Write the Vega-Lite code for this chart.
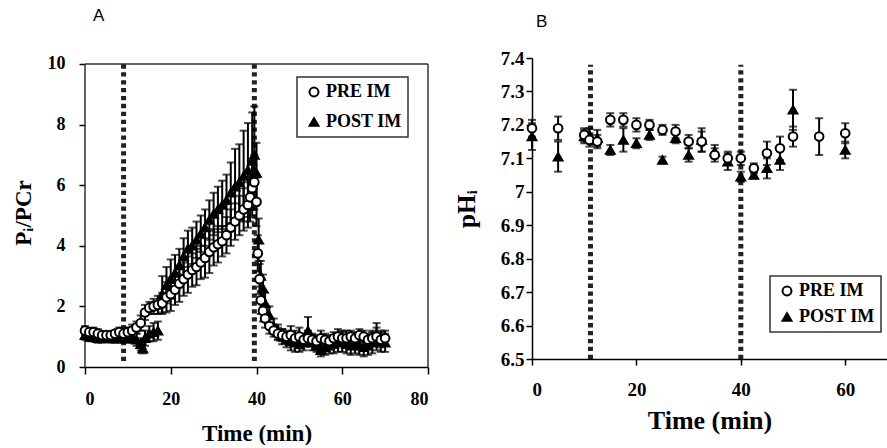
{
  "$schema": "https://vega.github.io/schema/vega-lite/v6.json",
  "padding": {"left": 12, "top": 6, "right": 0, "bottom": 0},
  "background": "white",
  "datasets": {
    "a": [
      {"s":"POST IM","t":0,"v":1.05,"e":0.15},{"s":"POST IM","t":1,"v":1.0,"e":0.15},{"s":"POST IM","t":2,"v":1.0,"e":0.15},{"s":"POST IM","t":3,"v":0.95,"e":0.15},{"s":"POST IM","t":4,"v":0.95,"e":0.15},{"s":"POST IM","t":5,"v":1.0,"e":0.15},{"s":"POST IM","t":6,"v":0.95,"e":0.15},{"s":"POST IM","t":7,"v":0.95,"e":0.15},{"s":"POST IM","t":8,"v":0.95,"e":0.15},{"s":"POST IM","t":9,"v":0.95,"e":0.15},{"s":"POST IM","t":10,"v":0.95,"e":0.15},{"s":"POST IM","t":11,"v":1.0,"e":0.2},{"s":"POST IM","t":12,"v":0.9,"e":0.2},{"s":"POST IM","t":13,"v":0.75,"e":0.2},{"s":"POST IM","t":13.5,"v":0.6,"e":0.15},{"s":"POST IM","t":14,"v":0.95,"e":0.25},{"s":"POST IM","t":15,"v":1.1,"e":0.25},{"s":"POST IM","t":16,"v":1.15,"e":0.3},{"s":"POST IM","t":17,"v":1.2,"e":0.3},{"s":"POST IM","t":18,"v":2.4,"e":0.6},{"s":"POST IM","t":19,"v":2.7,"e":0.6},{"s":"POST IM","t":20,"v":2.9,"e":0.65},{"s":"POST IM","t":21,"v":3.1,"e":0.6},{"s":"POST IM","t":22,"v":3.35,"e":0.55},{"s":"POST IM","t":23,"v":3.65,"e":0.6},{"s":"POST IM","t":24,"v":3.9,"e":0.6},{"s":"POST IM","t":25,"v":4.0,"e":0.6},{"s":"POST IM","t":26,"v":4.2,"e":0.6},{"s":"POST IM","t":27,"v":4.4,"e":0.6},{"s":"POST IM","t":28,"v":4.6,"e":0.6},{"s":"POST IM","t":29,"v":4.85,"e":0.65},{"s":"POST IM","t":30,"v":5.05,"e":0.7},{"s":"POST IM","t":31,"v":5.2,"e":0.75},{"s":"POST IM","t":32,"v":5.35,"e":0.8},{"s":"POST IM","t":33,"v":5.5,"e":0.85},{"s":"POST IM","t":34,"v":5.75,"e":1.0},{"s":"POST IM","t":35,"v":5.95,"e":1.25},{"s":"POST IM","t":36,"v":6.1,"e":1.25},{"s":"POST IM","t":37,"v":6.3,"e":1.5},{"s":"POST IM","t":38,"v":6.5,"e":1.55},{"s":"POST IM","t":39,"v":6.8,"e":1.6},{"s":"POST IM","t":39.5,"v":7.0,"e":1.6},{"s":"POST IM","t":40,"v":6.4,"e":1.0},{"s":"POST IM","t":40.5,"v":4.2,"e":0.7},{"s":"POST IM","t":41,"v":3.0,"e":0.5},{"s":"POST IM","t":41.5,"v":2.6,"e":0.45},{"s":"POST IM","t":42,"v":2.1,"e":0.35},{"s":"POST IM","t":43,"v":1.7,"e":0.3},{"s":"POST IM","t":44,"v":1.35,"e":0.25},{"s":"POST IM","t":45,"v":1.15,"e":0.25},{"s":"POST IM","t":46,"v":1.0,"e":0.25},{"s":"POST IM","t":47,"v":0.9,"e":0.25},{"s":"POST IM","t":48,"v":0.85,"e":0.3},{"s":"POST IM","t":49,"v":0.8,"e":0.3},{"s":"POST IM","t":50,"v":0.75,"e":0.25},{"s":"POST IM","t":51,"v":0.8,"e":0.25},{"s":"POST IM","t":52,"v":1.2,"e":0.45},{"s":"POST IM","t":53,"v":0.8,"e":0.25},{"s":"POST IM","t":54,"v":0.7,"e":0.2},{"s":"POST IM","t":55,"v":0.55,"e":0.2},{"s":"POST IM","t":56,"v":0.65,"e":0.25},{"s":"POST IM","t":57,"v":0.7,"e":0.25},{"s":"POST IM","t":58,"v":0.75,"e":0.3},{"s":"POST IM","t":59,"v":0.8,"e":0.3},{"s":"POST IM","t":60,"v":0.85,"e":0.35},{"s":"POST IM","t":61,"v":0.75,"e":0.3},{"s":"POST IM","t":62,"v":0.7,"e":0.3},{"s":"POST IM","t":63,"v":0.75,"e":0.3},{"s":"POST IM","t":64,"v":0.7,"e":0.3},{"s":"POST IM","t":65,"v":0.65,"e":0.3},{"s":"POST IM","t":66,"v":0.7,"e":0.3},{"s":"POST IM","t":67,"v":0.8,"e":0.35},{"s":"POST IM","t":68,"v":1.0,"e":0.45},{"s":"POST IM","t":69,"v":0.85,"e":0.35},{"s":"POST IM","t":70,"v":0.8,"e":0.3},
      {"s":"PRE IM","t":0,"v":1.2,"e":0.15},{"s":"PRE IM","t":1,"v":1.15,"e":0.1},{"s":"PRE IM","t":2,"v":1.15,"e":0.15},{"s":"PRE IM","t":3,"v":1.1,"e":0.15},{"s":"PRE IM","t":4,"v":1.05,"e":0.1},{"s":"PRE IM","t":5,"v":1.05,"e":0.1},{"s":"PRE IM","t":6,"v":1.05,"e":0.1},{"s":"PRE IM","t":7,"v":1.1,"e":0.1},{"s":"PRE IM","t":8,"v":1.15,"e":0.15},{"s":"PRE IM","t":9,"v":1.1,"e":0.15},{"s":"PRE IM","t":10,"v":1.15,"e":0.15},{"s":"PRE IM","t":11,"v":1.2,"e":0.2},{"s":"PRE IM","t":12,"v":1.3,"e":0.2},{"s":"PRE IM","t":13,"v":1.45,"e":0.25},{"s":"PRE IM","t":14,"v":1.8,"e":0.25},{"s":"PRE IM","t":15,"v":1.95,"e":0.2},{"s":"PRE IM","t":16,"v":2.0,"e":0.25},{"s":"PRE IM","t":17,"v":2.05,"e":0.3},{"s":"PRE IM","t":18,"v":2.1,"e":0.35},{"s":"PRE IM","t":19,"v":2.3,"e":0.5},{"s":"PRE IM","t":20,"v":2.4,"e":0.55},{"s":"PRE IM","t":21,"v":2.55,"e":0.5},{"s":"PRE IM","t":22,"v":2.75,"e":0.6},{"s":"PRE IM","t":23,"v":2.9,"e":0.55},{"s":"PRE IM","t":24,"v":3.05,"e":0.6},{"s":"PRE IM","t":25,"v":3.2,"e":0.55},{"s":"PRE IM","t":26,"v":3.3,"e":0.6},{"s":"PRE IM","t":27,"v":3.45,"e":0.55},{"s":"PRE IM","t":28,"v":3.6,"e":0.65},{"s":"PRE IM","t":29,"v":3.8,"e":0.7},{"s":"PRE IM","t":30,"v":3.95,"e":0.6},{"s":"PRE IM","t":31,"v":4.05,"e":0.6},{"s":"PRE IM","t":32,"v":4.15,"e":0.5},{"s":"PRE IM","t":33,"v":4.35,"e":0.6},{"s":"PRE IM","t":34,"v":4.6,"e":0.6},{"s":"PRE IM","t":35,"v":4.8,"e":0.6},{"s":"PRE IM","t":36,"v":5.0,"e":0.65},{"s":"PRE IM","t":37,"v":5.2,"e":0.7},{"s":"PRE IM","t":38,"v":5.35,"e":0.75},{"s":"PRE IM","t":38.5,"v":5.6,"e":0.8},{"s":"PRE IM","t":39,"v":5.9,"e":0.9},{"s":"PRE IM","t":39.5,"v":6.1,"e":0.9},{"s":"PRE IM","t":40,"v":5.45,"e":0.8},{"s":"PRE IM","t":40.3,"v":3.75,"e":0.6},{"s":"PRE IM","t":40.7,"v":2.9,"e":0.5},{"s":"PRE IM","t":41,"v":2.2,"e":0.45},{"s":"PRE IM","t":41.5,"v":1.85,"e":0.35},{"s":"PRE IM","t":42,"v":1.6,"e":0.3},{"s":"PRE IM","t":43,"v":1.35,"e":0.25},{"s":"PRE IM","t":44,"v":1.2,"e":0.2},{"s":"PRE IM","t":45,"v":1.1,"e":0.2},{"s":"PRE IM","t":46,"v":1.05,"e":0.2},{"s":"PRE IM","t":47,"v":1.0,"e":0.2},{"s":"PRE IM","t":48,"v":1.05,"e":0.3},{"s":"PRE IM","t":49,"v":0.95,"e":0.25},{"s":"PRE IM","t":50,"v":1.0,"e":0.3},{"s":"PRE IM","t":51,"v":0.9,"e":0.2},{"s":"PRE IM","t":52,"v":0.95,"e":0.25},{"s":"PRE IM","t":53,"v":0.9,"e":0.2},{"s":"PRE IM","t":54,"v":0.85,"e":0.2},{"s":"PRE IM","t":55,"v":0.95,"e":0.25},{"s":"PRE IM","t":56,"v":0.9,"e":0.2},{"s":"PRE IM","t":57,"v":0.85,"e":0.2},{"s":"PRE IM","t":58,"v":0.95,"e":0.2},{"s":"PRE IM","t":59,"v":1.0,"e":0.25},{"s":"PRE IM","t":60,"v":0.95,"e":0.2},{"s":"PRE IM","t":61,"v":0.95,"e":0.25},{"s":"PRE IM","t":62,"v":1.0,"e":0.2},{"s":"PRE IM","t":63,"v":0.95,"e":0.2},{"s":"PRE IM","t":64,"v":1.05,"e":0.2},{"s":"PRE IM","t":65,"v":1.0,"e":0.2},{"s":"PRE IM","t":66,"v":0.9,"e":0.2},{"s":"PRE IM","t":67,"v":0.95,"e":0.25},{"s":"PRE IM","t":68,"v":1.0,"e":0.3},{"s":"PRE IM","t":69,"v":0.9,"e":0.25},{"s":"PRE IM","t":70,"v":0.95,"e":0.25}
    ],
    "b": [
      {"s":"POST IM","t":0,"v":7.165,"e":0.04},{"s":"POST IM","t":5,"v":7.105,"e":0.045},{"s":"POST IM","t":10,"v":7.165,"e":0.02},{"s":"POST IM","t":11,"v":7.17,"e":0.02},{"s":"POST IM","t":12.5,"v":7.16,"e":0.025},{"s":"POST IM","t":15,"v":7.125,"e":0.015},{"s":"POST IM","t":17.5,"v":7.155,"e":0.035},{"s":"POST IM","t":20,"v":7.145,"e":0.015},{"s":"POST IM","t":22.5,"v":7.17,"e":0.015},{"s":"POST IM","t":25,"v":7.095,"e":0.01},{"s":"POST IM","t":27.5,"v":7.16,"e":0.015},{"s":"POST IM","t":30,"v":7.11,"e":0.02},{"s":"POST IM","t":32.5,"v":7.155,"e":0.035},{"s":"POST IM","t":35,"v":7.12,"e":0.02},{"s":"POST IM","t":37.5,"v":7.09,"e":0.025},{"s":"POST IM","t":40,"v":7.045,"e":0.015},{"s":"POST IM","t":42.5,"v":7.05,"e":0.01},{"s":"POST IM","t":45,"v":7.07,"e":0.03},{"s":"POST IM","t":47.5,"v":7.095,"e":0.03},{"s":"POST IM","t":50,"v":7.245,"e":0.06},{"s":"POST IM","t":60,"v":7.125,"e":0.025},
      {"s":"PRE IM","t":0,"v":7.19,"e":0.025},{"s":"PRE IM","t":5,"v":7.19,"e":0.035},{"s":"PRE IM","t":10,"v":7.17,"e":0.02},{"s":"PRE IM","t":11,"v":7.155,"e":0.02},{"s":"PRE IM","t":12.5,"v":7.15,"e":0.02},{"s":"PRE IM","t":15,"v":7.215,"e":0.02},{"s":"PRE IM","t":17.5,"v":7.215,"e":0.02},{"s":"PRE IM","t":20,"v":7.2,"e":0.02},{"s":"PRE IM","t":22.5,"v":7.2,"e":0.015},{"s":"PRE IM","t":25,"v":7.185,"e":0.015},{"s":"PRE IM","t":27.5,"v":7.18,"e":0.02},{"s":"PRE IM","t":30,"v":7.15,"e":0.02},{"s":"PRE IM","t":32.5,"v":7.15,"e":0.03},{"s":"PRE IM","t":35,"v":7.11,"e":0.02},{"s":"PRE IM","t":37.5,"v":7.1,"e":0.02},{"s":"PRE IM","t":40,"v":7.1,"e":0.02},{"s":"PRE IM","t":42.5,"v":7.07,"e":0.015},{"s":"PRE IM","t":45,"v":7.115,"e":0.035},{"s":"PRE IM","t":47.5,"v":7.13,"e":0.035},{"s":"PRE IM","t":50,"v":7.165,"e":0.03},{"s":"PRE IM","t":55,"v":7.165,"e":0.055},{"s":"PRE IM","t":60,"v":7.175,"e":0.03}
    ],
    "ra": [{"x":9,"y":0.2,"y2":10},{"x":39.5,"y":0.2,"y2":10}],
    "fa": [{"x":0,"x2":80,"y":10,"y2":10},{"x":80,"x2":80,"y":0,"y2":10},{"x":0,"x2":0,"y":0,"y2":10}],
    "rb": [{"x":11.2,"y":6.5,"y2":7.38},{"x":40,"y":6.5,"y2":7.38}]
  },
  "hconcat": [
    {
      "title": {"text": "A", "anchor": "start", "frame": "group", "dx": 8, "offset": 30},
      "width": 343,
      "height": 309,
      "view": {"stroke": null},
      "layer": [
        {
          "data": {"name": "fa"},
          "mark": {"type": "rule", "strokeWidth": 1.5, "color": "#333"},
          "encoding": {
            "x": {"field": "x", "type": "quantitative", "title": "Time (min)", "scale": {"domain": [0, 80], "nice": false},
              "axis": {"values": [0, 20, 40, 60, 80], "tickSize": 7, "labelPadding": 16, "titlePadding": 14, "labelFontSize": 18, "titleFontSize": 23}},
            "x2": {"field": "x2"},
            "y": {"field": "y", "type": "quantitative", "title": "Pᵢ/PCr", "scale": {"domain": [0, 10.198], "nice": false},
              "axis": {"values": [0, 2, 4, 6, 8, 10], "domain": false, "tickSize": 6, "labelPadding": 14, "titlePadding": 12, "labelFontSize": 18, "titleFontSize": 23}},
            "y2": {"field": "y2"}
          }
        },
        {
          "data": {"name": "ra"},
          "mark": {"type": "rule", "strokeDash": [4.3, 3.6], "strokeWidth": 5, "color": "#222"},
          "encoding": {
            "x": {"field": "x", "type": "quantitative", "title": "Time (min)"},
            "y": {"field": "y", "type": "quantitative", "title": "Pᵢ/PCr"},
            "y2": {"field": "y2"}
          }
        },
        {
          "data": {"name": "a"},
          "mark": {"type": "errorbar", "ticks": true, "color": "black", "thickness": 2, "size": 8},
          "encoding": {
            "x": {"field": "t", "type": "quantitative", "title": "Time (min)"},
            "y": {"field": "v", "type": "quantitative", "title": "Pᵢ/PCr"},
            "yError": {"field": "e"}
          }
        },
        {
          "data": {"name": "a"},
          "mark": {"type": "point", "size": 75, "strokeWidth": 2, "opacity": 1},
          "encoding": {
            "x": {"field": "t", "type": "quantitative", "title": "Time (min)"},
            "y": {"field": "v", "type": "quantitative", "title": "Pᵢ/PCr"},
            "shape": {"field": "s", "type": "nominal", "scale": {"domain": ["PRE IM", "POST IM"], "range": ["circle", "triangle-up"]},
              "legend": {"title": null, "orient": "none", "legendX": 212, "legendY": 19, "rowPadding": 12}},
            "fill": {"field": "s", "type": "nominal", "scale": {"domain": ["PRE IM", "POST IM"], "range": ["white", "black"]},
              "legend": {"title": null, "orient": "none", "legendX": 212, "legendY": 19, "rowPadding": 12}},
            "stroke": {"field": "s", "type": "nominal", "scale": {"domain": ["PRE IM", "POST IM"], "range": ["black", "black"]},
              "legend": {"title": null, "orient": "none", "legendX": 212, "legendY": 19, "rowPadding": 12}}
          }
        }
      ]
    },
    {
      "title": {"text": "B", "anchor": "start", "frame": "group", "dx": 4, "offset": 18},
      "width": 355,
      "height": 301,
      "view": {"stroke": null},
      "layer": [
        {
          "data": {"name": "rb"},
          "mark": {"type": "rule", "strokeDash": [4.3, 3.6], "strokeWidth": 5, "color": "#222"},
          "encoding": {
            "x": {"field": "x", "type": "quantitative", "title": "Time (min)", "scale": {"domain": [0, 68], "nice": false},
              "axis": {"values": [0, 20, 40, 60], "tickSize": 6, "labelPadding": 15, "titlePadding": 8, "labelFontSize": 19, "titleFontSize": 26}},
            "y": {"field": "y", "type": "quantitative", "title": "pHᵢ", "scale": {"domain": [6.5, 7.4], "nice": false},
              "axis": {"values": [6.5, 6.6, 6.7, 6.8, 6.9, 7.0, 7.1, 7.2, 7.3, 7.4], "format": ".1~f", "labelOverlap": false, "labelSeparation": 0, "tickSize": 6, "labelPadding": 2, "titlePadding": 21, "labelFontSize": 19, "titleFontSize": 25}},
            "y2": {"field": "y2"}
          }
        },
        {
          "data": {"name": "b"},
          "mark": {"type": "errorbar", "ticks": true, "color": "black", "thickness": 2, "size": 8},
          "encoding": {
            "x": {"field": "t", "type": "quantitative", "title": "Time (min)"},
            "y": {"field": "v", "type": "quantitative", "title": "pHᵢ",
              "axis": {"values": [6.5, 6.6, 6.7, 6.8, 6.9, 7.0, 7.1, 7.2, 7.3, 7.4], "format": ".1~f", "labelOverlap": false, "labelSeparation": 0, "tickSize": 6, "labelPadding": 2, "titlePadding": 21, "labelFontSize": 19, "titleFontSize": 25}},
            "yError": {"field": "e"}
          }
        },
        {
          "data": {"name": "b"},
          "mark": {"type": "point", "size": 75, "strokeWidth": 2, "opacity": 1},
          "encoding": {
            "x": {"field": "t", "type": "quantitative", "title": "Time (min)"},
            "y": {"field": "v", "type": "quantitative", "title": "pHᵢ",
              "axis": {"values": [6.5, 6.6, 6.7, 6.8, 6.9, 7.0, 7.1, 7.2, 7.3, 7.4], "format": ".1~f", "labelOverlap": false, "labelSeparation": 0, "tickSize": 6, "labelPadding": 2, "titlePadding": 21, "labelFontSize": 19, "titleFontSize": 25}},
            "shape": {"field": "s", "type": "nominal", "scale": {"domain": ["PRE IM", "POST IM"], "range": ["circle", "triangle-up"]},
              "legend": {"title": null, "orient": "none", "legendX": 238, "legendY": 218, "rowPadding": 8}},
            "fill": {"field": "s", "type": "nominal", "scale": {"domain": ["PRE IM", "POST IM"], "range": ["white", "black"]},
              "legend": {"title": null, "orient": "none", "legendX": 238, "legendY": 218, "rowPadding": 8}},
            "stroke": {"field": "s", "type": "nominal", "scale": {"domain": ["PRE IM", "POST IM"], "range": ["black", "black"]},
              "legend": {"title": null, "orient": "none", "legendX": 238, "legendY": 218, "rowPadding": 8}}
          }
        }
      ]
    }
  ],
  "resolve": {
    "scale": {"shape": "independent", "fill": "independent", "stroke": "independent"},
    "legend": {"shape": "independent", "fill": "independent", "stroke": "independent"}
  },
  "config": {
    "font": "Liberation Serif",
    "concat": {"spacing": 25},
    "axis": {
      "grid": false, "labelOverlap": false,
      "labelFont": "Liberation Serif", "labelFontWeight": "bold", "labelFontSize": 18, "labelColor": "black",
      "titleFont": "Liberation Serif", "titleFontWeight": "bold", "titleFontSize": 23, "titleColor": "black",
      "domainColor": "black", "domainWidth": 1.5, "tickColor": "black", "tickWidth": 1.5
    },
    "axisY": {"labelOverlap": false},
    "legend": {
      "strokeColor": "#333", "strokeWidth": 1.5, "padding": 6,
      "labelFont": "Liberation Serif", "labelFontWeight": "bold", "labelFontSize": 18, "labelColor": "black",
      "symbolSize": 80, "symbolStrokeWidth": 2, "symbolOffset": 2, "labelOffset": 3
    },
    "title": {"font": "Liberation Sans", "fontSize": 17, "fontWeight": "normal", "color": "black"}
  }
}
